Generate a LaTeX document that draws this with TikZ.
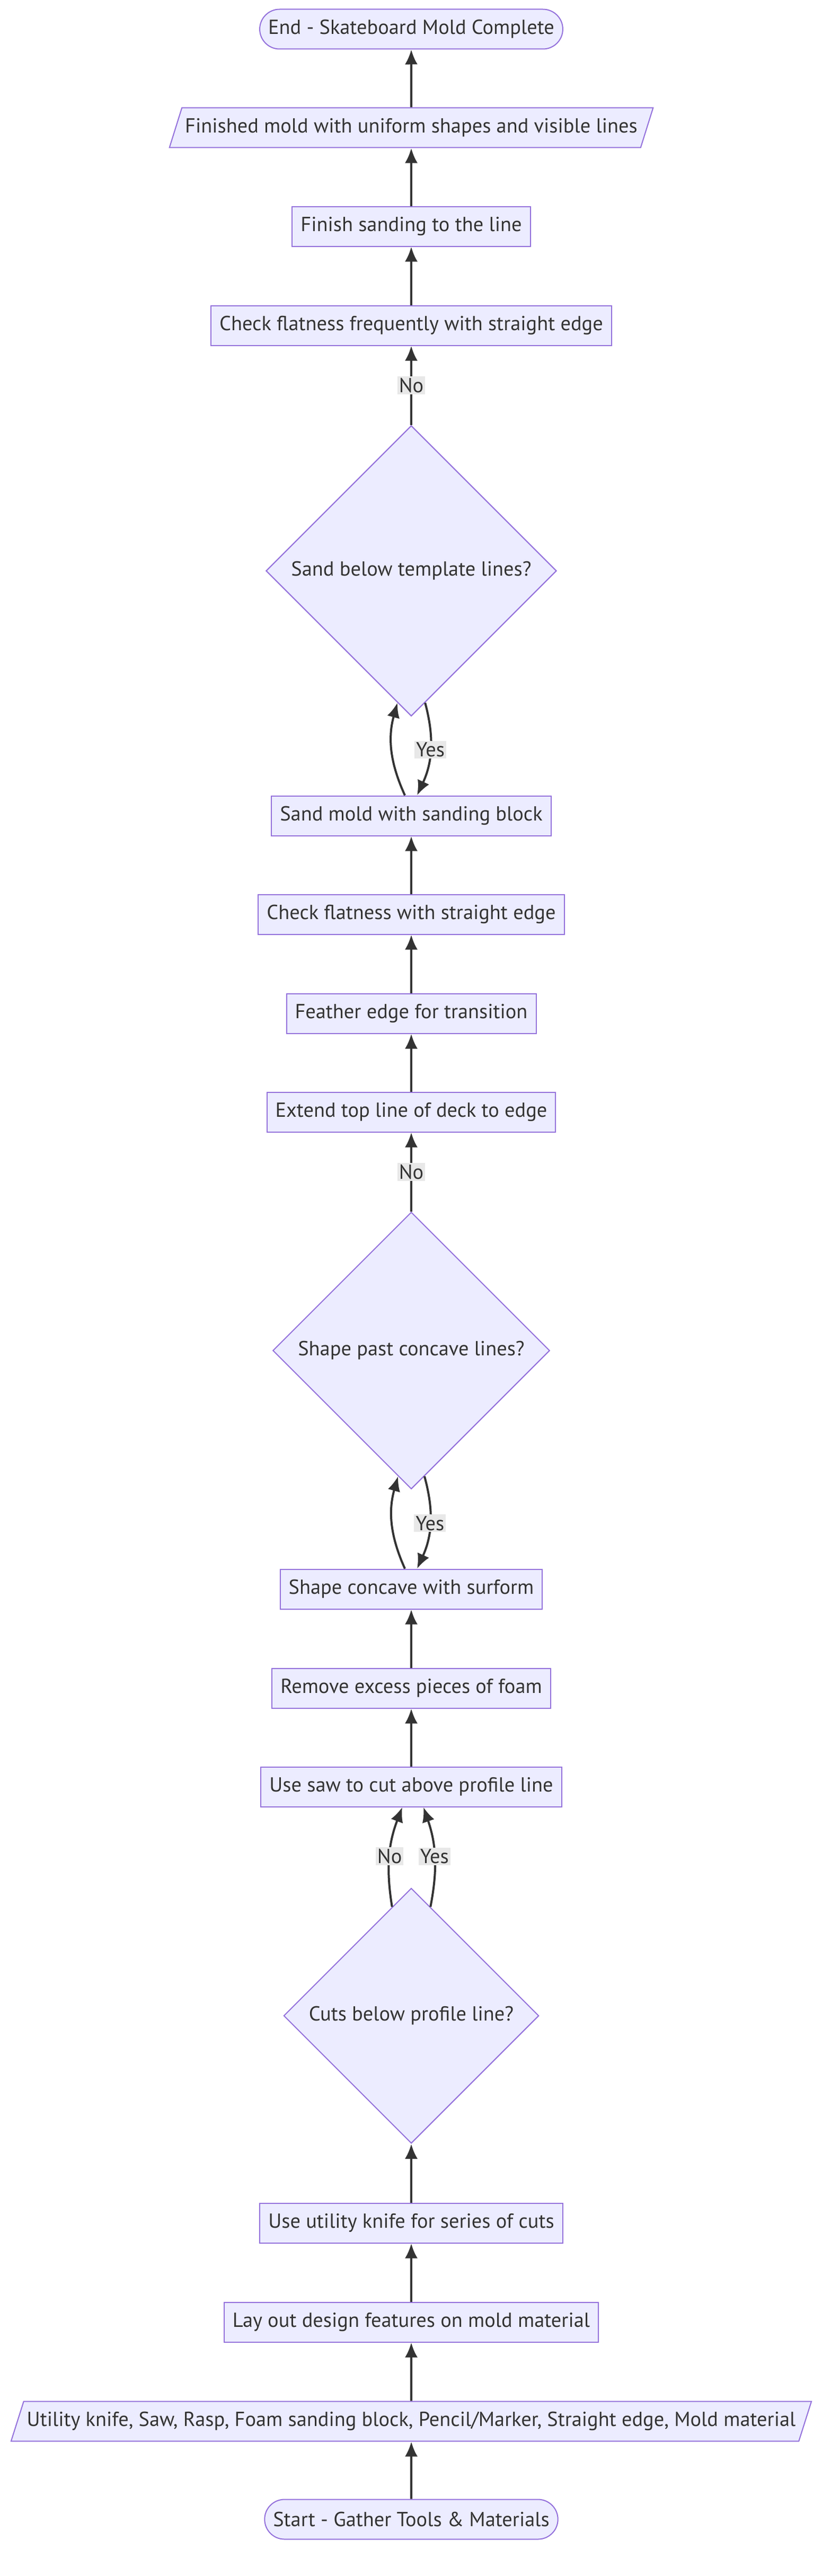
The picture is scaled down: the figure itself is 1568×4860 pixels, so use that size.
\documentclass[tikz,border=0pt]{standalone}
\usepackage{fontspec}
\setmainfont{PT Sans}
\usetikzlibrary{shapes.geometric,arrows.meta}
\definecolor{nodefill}{HTML}{ECECFF}
\definecolor{nodeline}{HTML}{9370DB}
\definecolor{edgeline}{HTML}{333333}
\definecolor{labelfill}{HTML}{E8E8E8}

\begin{document}
\begin{tikzpicture}[x=0.5pt,y=-0.5pt,
  every node/.style={font=\fontsize{19.2}{23}\selectfont,text=edgeline},
  proc/.style={draw=nodeline,fill=nodefill,line width=1pt,rectangle,inner xsep=8pt,minimum height=37.5pt},
  term/.style={proc,rounded corners=18.75pt},
  io/.style={proc,trapezium,trapezium left angle=64,trapezium right angle=116,trapezium stretches=true,inner xsep=3pt},
  decision/.style={draw=nodeline,fill=nodefill,line width=1pt,diamond,aspect=1,inner sep=7.5pt},
  lbl/.style={fill=labelfill,inner sep=1.5pt},
  flow/.style={draw=edgeline,line width=2pt,-{Latex[length=14pt,width=12pt]}}]

  \useasboundingbox (0,0) rectangle (1568,4860);

  % bottom to top
  \node [term]     (st)    at (776,4753) {Start - Gather Tools \& Materials};
  \node [io]       (tools) at (776,4568) {Utility knife, Saw, Rasp, Foam sanding block, Pencil/Marker, Straight edge, Mold material};
  \node [proc]     (lay)   at (776,4381) {Lay out design features on mold material};
  \node [proc]     (knife) at (776,4194) {Use utility knife for series of cuts};
  \node [decision] (cuts)  at (776,3803) {Cuts below profile line?};
  \node [proc]     (saw)   at (776,3371) {Use saw to cut above profile line};
  \node [proc]     (foam)  at (776,3185) {Remove excess pieces of foam};
  \node [proc]     (conc)  at (776,2998) {Shape concave with surform};
  \node [decision] (past)  at (776,2548) {Shape past concave lines?};
  \node [proc]     (ext)   at (776,2098) {Extend top line of deck to edge};
  \node [proc]     (feat)  at (776,1912) {Feather edge for transition};
  \node [proc]     (flat)  at (776,1725) {Check flatness with straight edge};
  \node [proc]     (sand)  at (776,1539) {Sand mold with sanding block};
  \node [decision] (below) at (776,1077) {Sand below template lines?};
  \node [proc]     (freq)  at (776,614)  {Check flatness frequently with straight edge};
  \node [proc]     (fin)   at (776,427)  {Finish sanding to the line};
  \node [io]       (done)  at (776,241)  {Finished mold with uniform shapes and visible lines};
  \node [term]     (en)    at (776,55)   {End - Skateboard Mold Complete};

  \path (st) edge [flow] (tools);
  \path (tools) edge [flow] (lay);
  \path (lay) edge [flow] (knife);
  \path (knife) edge [flow] (cuts);
  \path (cuts.100) edge [flow,bend left=15] node [lbl] {No} ([xshift=-8.5pt]saw.south);
  \path (cuts.80) edge [flow,bend right=15] node [lbl] {Yes} ([xshift=11.5pt]saw.south);
  \path (saw) edge [flow] (foam);
  \path (foam) edge [flow] (conc);
  \path ([xshift=-6pt]conc.north) edge [flow,bend left=20] (past.264);
  \path (past.276) edge [flow,bend left=20] node [lbl] {Yes} ([xshift=5.5pt]conc.north);
  \path (past) edge [flow] node [lbl] {No} (ext);
  \path (ext) edge [flow] (feat);
  \path (feat) edge [flow] (flat);
  \path (flat) edge [flow] (sand);
  \path ([xshift=-6pt]sand.north) edge [flow,bend left=20] (below.264);
  \path (below.276) edge [flow,bend left=20] node [lbl] {Yes} ([xshift=5.5pt]sand.north);
  \path (below) edge [flow] node [lbl] {No} (freq);
  \path (freq) edge [flow] (fin);
  \path (fin) edge [flow] (done);
  \path (done) edge [flow] (en);

\end{tikzpicture}
\end{document}
